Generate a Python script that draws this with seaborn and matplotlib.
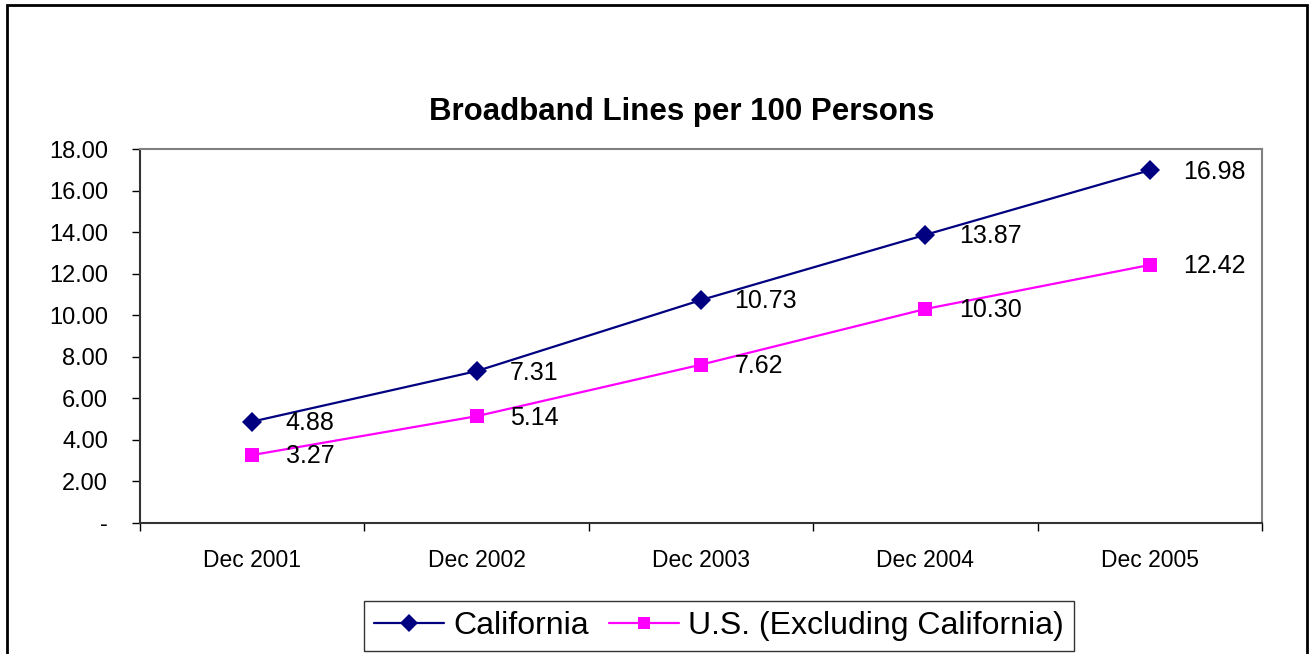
import matplotlib
matplotlib.use("Agg")
import matplotlib.pyplot as plt
import numpy as np
import pandas as pd
import seaborn as sns
from matplotlib.patches import Rectangle

periods = ["Dec 2001", "Dec 2002", "Dec 2003", "Dec 2004", "Dec 2005"]
california = [4.88, 7.31, 10.73, 13.87, 16.98]
us_excl_ca = [3.27, 5.14, 7.62, 10.30, 12.42]
series_names = ["California", "U.S. (Excluding California)"]
y_ticks = [0, 2, 4, 6, 8, 10, 12, 14, 16, 18]

df = pd.DataFrame({
    "period": periods * 2,
    "idx": list(range(len(periods))) * 2,
    "value": california + us_excl_ca,
    "series": [series_names[0]] * len(periods) + [series_names[1]] * len(periods),
})

sns.set_theme(style="white")
plt.rcParams["font.family"] = ["Liberation Sans", "DejaVu Sans"]
plt.rcParams["text.color"] = "black"
plt.rcParams["xtick.color"] = "black"
plt.rcParams["ytick.color"] = "black"

fig = plt.figure(figsize=(13.1, 6.54), dpi=100)
ax = fig.add_axes([140 / 1310, 1 - 523 / 654, 1122 / 1310, 374 / 654])

palette = {series_names[0]: "#000080", series_names[1]: "#FF00FF"}
markers = {series_names[0]: "D", series_names[1]: "s"}
sns.lineplot(data=df, x="idx", y="value", hue="series", style="series",
             palette=palette, markers=markers, dashes=False, ax=ax,
             linewidth=1.6, markersize=10, markeredgewidth=0, legend=False)
for line, ms in zip(ax.lines, [10.5, 10]):
    line.set_markersize(ms)

# data labels
for vals in (california, us_excl_ca):
    for i, v in enumerate(vals):
        ax.annotate(f"{v:.2f}", (i, v), xytext=(24, -1), textcoords="offset points",
                    ha="left", va="center", fontsize=18, color="black")

ax.set_xlim(-0.5, len(periods) - 0.5)
ax.set_ylim(0, 18)
ax.set_yticks(y_ticks)
ax.set_yticklabels(["-"] + [f"{t:.2f}" for t in y_ticks[1:]], fontsize=17)
ax.set_xticks(np.arange(-0.5, len(periods), 1.0))
ax.set_xticklabels([])
ax.set_xticks(range(len(periods)), minor=True)
ax.set_xticklabels(periods, minor=True, fontsize=16.5)
ax.tick_params(axis="x", which="major", direction="out", length=6, width=1, color="black", bottom=True)
ax.tick_params(axis="x", which="minor", length=0, pad=19)
ax.tick_params(axis="y", direction="out", length=6, width=1, color="black", left=True, pad=17)
ax.set_xlabel("")
ax.set_ylabel("")

for side in ["top", "right"]:
    ax.spines[side].set_color("#808080")
    ax.spines[side].set_linewidth(1.5)
for side in ["left", "bottom"]:
    ax.spines[side].set_color("#333333")
    ax.spines[side].set_linewidth(1.5)

ax.set_title("Broadband Lines per 100 Persons", fontsize=22.5, fontweight="bold",
             pad=21, x=(682 - 140) / 1122, color="black")

# legend at bottom
handles = [plt.Line2D([], [], color=palette[s], marker=markers[s], markersize=ms,
                      markeredgewidth=0, linewidth=1.6)
           for s, ms in zip(series_names, [9, 8.5])]
leg = fig.legend(handles, series_names, loc="center", bbox_to_anchor=(719 / 1310, 1 - 626 / 654),
                 ncol=2, fontsize=23, frameon=True, fancybox=False, handlelength=2.2,
                 handletextpad=0.3, columnspacing=0.6, borderpad=0.3)
leg.get_frame().set_edgecolor("black")
leg.get_frame().set_linewidth(1.0)

# outer chart frame
fig.patches.append(Rectangle((7 / 1310, -0.05), 1300 / 1310, 1.05 - 5 / 654,
                             transform=fig.transFigure, fill=False,
                             edgecolor="black", linewidth=2))

fig.savefig("out.png", dpi=100)
